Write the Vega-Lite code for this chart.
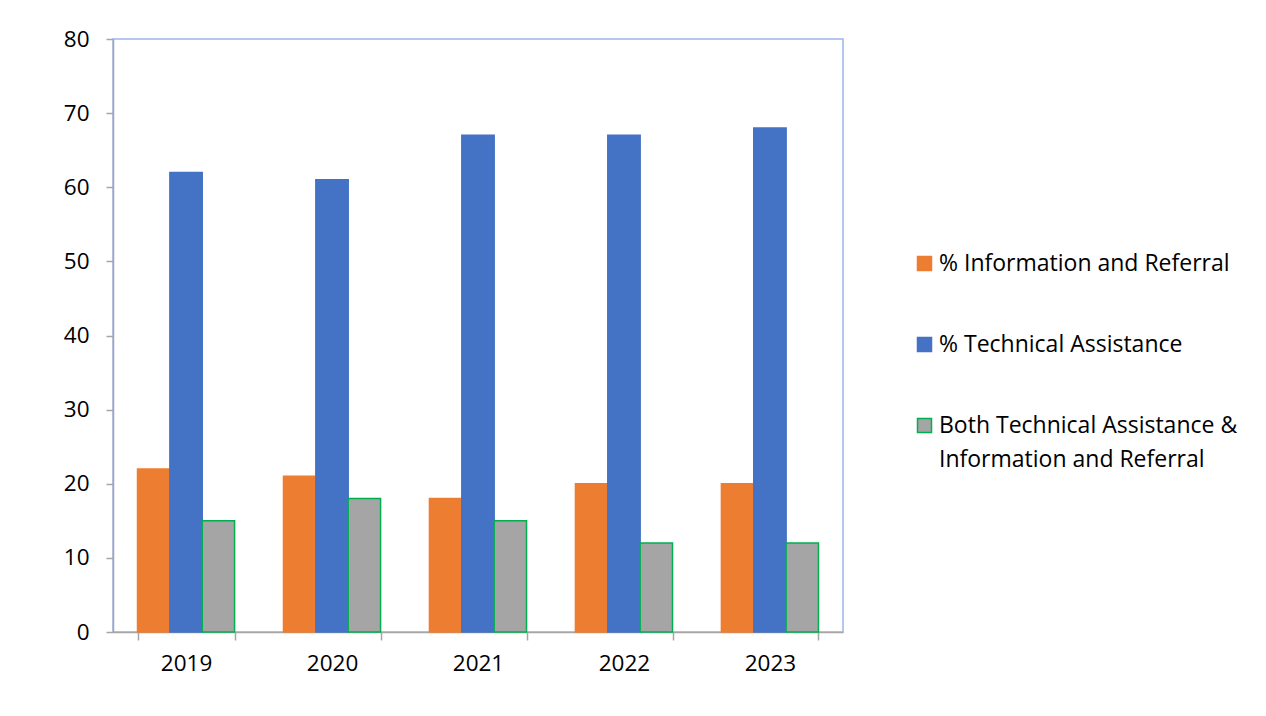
{
  "$schema": "https://vega.github.io/schema/vega-lite/v6.json",
  "width": 730,
  "height": 593,
  "autosize": {"type": "none"},
  "padding": {"left": 113, "top": 39, "right": 423, "bottom": 84},
  "background": "white",
  "config": {
    "font": "Open Sans",
    "view": {"stroke": "#9fb4ef", "strokeWidth": 1.5},
    "style": {"guide-label": {"lineHeight": 34}},
    "axis": {"labelFont": "Open Sans", "labelFontSize": 22.5, "labelColor": "#000000", "domainColor": "#a6a6a6", "tickColor": "#a6a6a6", "domainWidth": 1.5, "tickWidth": 1.5}
  },
  "data": {
    "values": [
      {"year": "2019", "series": "% Information and Referral", "value": 22},
      {"year": "2019", "series": "% Technical Assistance", "value": 62},
      {"year": "2019", "series": "Both Technical Assistance & Information and Referral", "value": 15},
      {"year": "2020", "series": "% Information and Referral", "value": 21},
      {"year": "2020", "series": "% Technical Assistance", "value": 61},
      {"year": "2020", "series": "Both Technical Assistance & Information and Referral", "value": 18},
      {"year": "2021", "series": "% Information and Referral", "value": 18},
      {"year": "2021", "series": "% Technical Assistance", "value": 67},
      {"year": "2021", "series": "Both Technical Assistance & Information and Referral", "value": 15},
      {"year": "2022", "series": "% Information and Referral", "value": 20},
      {"year": "2022", "series": "% Technical Assistance", "value": 67},
      {"year": "2022", "series": "Both Technical Assistance & Information and Referral", "value": 12},
      {"year": "2023", "series": "% Information and Referral", "value": 20},
      {"year": "2023", "series": "% Technical Assistance", "value": 68},
      {"year": "2023", "series": "Both Technical Assistance & Information and Referral", "value": 12}
    ]
  },
  "mark": {"type": "bar", "strokeWidth": 1.5},
  "encoding": {
    "x": {
      "field": "year", "type": "nominal", "title": null,
      "scale": {"paddingInner": 0.335, "paddingOuter": 0.168},
      "axis": {"labelAngle": 0, "tickBand": "extent", "tickSize": 8, "labelPadding": 12}
    },
    "xOffset": {"field": "series", "type": "nominal", "sort": null},
    "y": {
      "field": "value", "type": "quantitative", "title": null,
      "scale": {"domain": [0, 80], "nice": false},
      "axis": {"values": [0, 10, 20, 30, 40, 50, 60, 70, 80], "grid": false, "tickSize": 7, "labelPadding": 17}
    },
    "color": {
      "field": "series", "type": "nominal", "sort": null,
      "scale": {"range": ["#ed7d31", "#4472c4", "#a5a5a5"]},
      "legend": {
        "title": null, "orient": "none", "legendX": 800, "legendY": 213,
        "symbolType": "square", "symbolSize": 196, "symbolStrokeWidth": 1.5,
        "labelFont": "Open Sans", "labelFontSize": 23, "labelColor": "#000000",
        "labelLimit": 400, "rowPadding": 57, "labelOffset": 3,
        "labelExpr": "datum.label == 'Both Technical Assistance & Information and Referral' ? ['Both Technical Assistance &', 'Information and Referral'] : datum.label"
      }
    },
    "stroke": {
      "field": "series", "type": "nominal", "sort": null,
      "scale": {"range": ["#ed7d31", "#4472c4", "#00b050"]},
      "legend": null
    }
  }
}
